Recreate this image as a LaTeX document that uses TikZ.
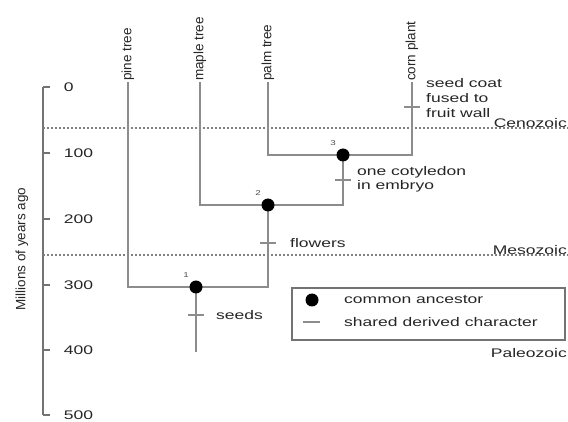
\documentclass[tikz,border=0pt]{standalone}
\usepackage{fontspec}
\setmainfont{Liberation Sans}
\newfontfamily\widefont[FakeStretch=1.4]{Liberation Sans}
\usetikzlibrary{arrows.meta, calc}

\begin{document}
\begin{tikzpicture}[x=1pt, y=-1pt,
    every node/.style={font=\widefont\fontsize{12.5}{14}\selectfont, inner sep=1pt, text=black!85},
    uptext/.style={font=\fontsize{13.5}{15}\selectfont, rotate=90},
    branch/.style={draw=black!45, line width=2pt},
    axisline/.style={draw=black!55, line width=1.6pt},
    boundary/.style={draw=black!50, line width=1.6pt, dash pattern=on 2pt off 2pt},
    ancestor/.style={circle, fill=black, minimum size=13pt, inner sep=0pt},
    trait/.style={draw=black!45, line width=2.4pt},
    nodenum/.style={font=\widefont\fontsize{7}{8}\selectfont, text=black!70}]
  \useasboundingbox (0,0) rectangle (568,422);
  % time axis
  \draw[axisline] (43,87) -- (43,415);
  \foreach \y/\t in {87/0, 153/100, 219/200, 285/300, 350/400, 415/500}
    \draw[axisline] (43,\y) -- (50,\y) node[right=12pt] {\t};
  \node[uptext] (axislabel) at (22,249) {Millions of years ago};
  % era boundaries
  \draw[boundary] (43,128) -- (568,128);
  \draw[boundary] (43,255) -- (568,255);
  \node[anchor=south east] (cenozoic) at (568,129) {Cenozoic};
  \node[anchor=south east] (mesozoic) at (568,256) {Mesozoic};
  \node[anchor=east] (paleozoic) at (568,353) {Paleozoic};
  % taxa
  \coordinate (pine) at (128,82);
  \coordinate (maple) at (200,82);
  \coordinate (palm) at (268,82);
  \coordinate (corn) at (412,82);
  \node[uptext, anchor=west] at (pine) {pine tree};
  \node[uptext, anchor=west] at (maple) {maple tree};
  \node[uptext, anchor=west] at (palm) {palm tree};
  \node[uptext, anchor=west] at (corn) {corn plant};
  % tree
  \coordinate (n3) at (343,155);
  \coordinate (n2) at (268,205);
  \coordinate (n1) at (196,287);
  \coordinate (root) at (196,352);
  \draw[branch] (palm) |- (n3) -| (corn);
  \draw[branch] (maple) |- (n2) -| (n3);
  \draw[branch] (pine) |- (n1) -| (n2);
  \draw[branch] (n1) -- (root);
  \foreach \n/\k in {n1/1, n2/2, n3/3} {
    \node[ancestor] at (\n) {};
    \node[nodenum] at ($(\n)+(-10,-12)$) {\k};
  }
  % shared derived characters
  \draw[trait] ($(root)+(-8,-37)$) -- ++(16,0) node[right=10pt, anchor=west] (seeds) {seeds};
  \draw[trait] ($(n2)+(-8,38)$) -- ++(16,0) node[right=12pt, anchor=west] (flowers) {flowers};
  \draw[trait] ($(n3)+(-8,25)$) -- ++(16,0) node[right=4pt, anchor=west, align=left, yshift=1pt] (cotyledon) {one cotyledon\\in embryo};
  \draw[trait] ($(corn)+(-8,25)$) -- ++(16,0) node[right=4pt, anchor=west, align=left, yshift=9pt, font=\widefont\fontsize{12.5}{15}\selectfont] (seedcoat) {seed coat\\fused to\\fruit wall};
  % legend
  \draw[draw=black!55, line width=1.6pt] (292,288) rectangle (565,340);
  \node[ancestor] (legancestor) at (312,300) {};
  \node[anchor=west] at (343,300) {common ancestor};
  \draw[trait] (303,322) -- (320,322);
  \node[anchor=west] at (343,322) {shared derived character};
\end{tikzpicture}
\end{document}
